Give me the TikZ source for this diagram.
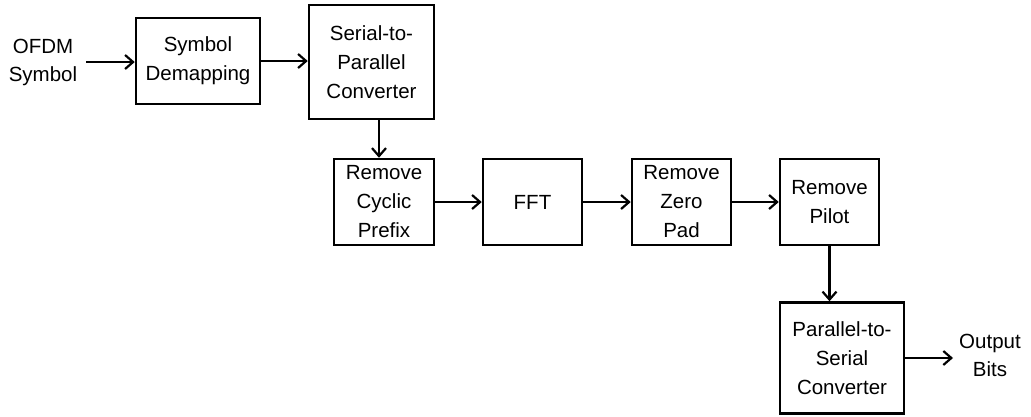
\documentclass[tikz,border=0pt]{standalone}
\usepackage{fontspec}
\setmainfont{Liberation Sans}
\usetikzlibrary{arrows.meta}
\begin{document}
\begin{tikzpicture}[x=1pt,y=-1pt,
  blk/.style={draw=black, line width=2.5pt, align=center, inner sep=0pt,
    font=\fontsize{20.5}{29}\selectfont},
  lbl/.style={align=center, inner sep=0pt, font=\fontsize{20.5}{28}\selectfont},
  flow/.style={line width=2.2pt, -{Straight Barb[length=8pt,width=14pt,line width=2.2pt]}}]
  \useasboundingbox (0,0) rectangle (1031,416);
  % input and output labels
  \node[lbl] (in) at (43,62) {OFDM\\Symbol};
  \node[lbl] (out) at (990,355) {Output\\Bits};
  % processing blocks
  \node[blk, minimum width=124pt, minimum height=86pt] (sd) at (198,61) {Symbol\\Demapping};
  \node[blk, minimum width=125pt, minimum height=114pt] (sp) at (371.5,62) {Serial-to-\\Parallel\\Converter};
  \node[blk, minimum width=100pt, minimum height=86pt] (rcp) at (384,202) {Remove\\Cyclic\\Prefix};
  \node[blk, minimum width=99pt, minimum height=86pt] (fft) at (532.5,202) {FFT};
  \node[blk, minimum width=99pt, minimum height=86pt] (rzp) at (681.5,202) {Remove\\Zero\\Pad};
  \node[blk, minimum width=99pt, minimum height=86pt] (rp) at (829.5,202) {Remove\\Pilot};
  \node[blk, minimum width=124pt, minimum height=111pt] (ps) at (842,358) {Parallel-to-\\Serial\\Converter};
  % signal flow
  \coordinate (inend) at (86,62);
  \draw[flow] (inend) -- (inend -| sd.west);
  \draw[flow] (sd.east) -- (sd.east -| sp.west);
  \draw[flow] ([xshift=7.5pt]sp.south) -- ([xshift=7.5pt]sp.south |- rcp.north);
  \draw[flow] (rcp.east) -- (fft.west);
  \draw[flow] (fft.east) -- (rzp.west);
  \draw[flow] (rzp.east) -- (rp.west);
  \draw[flow] (rp.south) -- (rp.south |- ps.north);
  \coordinate (outend) at (953,358);
  \draw[flow] (ps.east) -- (outend);
\end{tikzpicture}
\end{document}
